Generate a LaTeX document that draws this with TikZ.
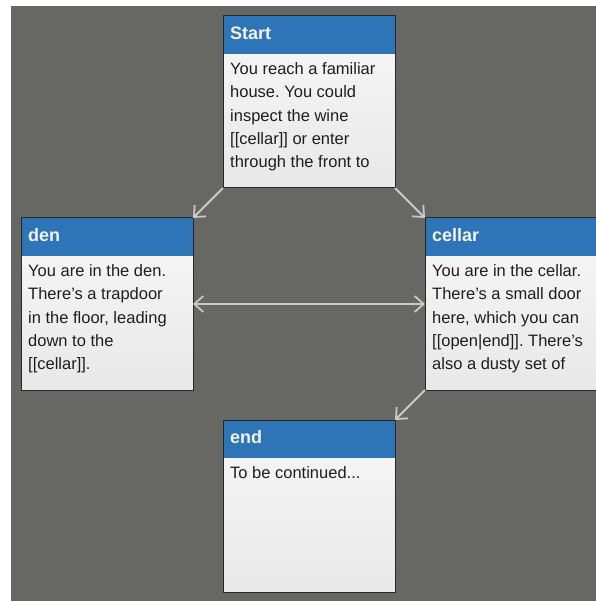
\documentclass[tikz,border=0pt]{standalone}
\usepackage{fontspec}
\setmainfont{Liberation Sans}
\usetikzlibrary{arrows.meta}
\frenchspacing
\definecolor{bggray}{RGB}{103,104,100}
\definecolor{hdrblue}{RGB}{45,117,183}
\definecolor{edgecol}{RGB}{200,202,195}
\definecolor{boxline}{RGB}{40,40,40}
\definecolor{bodytext}{RGB}{30,30,30}
\tikzset{
  passage/.style={draw=boxline, line width=1pt, top color=white!97!black, bottom color=white!91!black,
    minimum width=172pt, minimum height=172pt, inner sep=0pt, outer sep=0pt},
  hdrbar/.style={fill=hdrblue, draw=none, minimum width=171pt, minimum height=37.5pt, inner sep=0pt, outer sep=0pt},
  hdrtext/.style={anchor=base west, inner sep=0pt, text=white!95!black, font=\fontsize{18}{22}\selectfont\bfseries},
  bodytxt/.style={anchor=base west, inner sep=0pt, align=left, text=bodytext, font=\fontsize{16.5}{23.3}\selectfont\frenchspacing},
  link/.style={draw=edgecol, line width=1.8pt, >={Straight Barb[length=9pt,width=16pt]}}
}
\begin{document}
\begin{tikzpicture}[x=1pt,y=-1pt]
\useasboundingbox (0,0) rectangle (595,601);
\fill[white] (0,0) rectangle (595,601);
\fill[bggray] (11,6) rectangle (600,606);
% boxes
\node[passage] (start) at (309,102) {};
\node[passage] (den) at (107,304) {};
\node[passage] (cellar) at (511,304) {};
\node[passage] (end) at (309,506) {};
% headers
\foreach \b in {start,den,cellar,end}{
  \node[hdrbar, anchor=north west] (\b h) at ([shift={(0.5,0.5)}]\b.north west) {};
}
\draw[boxline, line width=1pt] (start.north west) rectangle (start.south east);
\draw[boxline, line width=1pt] (den.north west) rectangle (den.south east);
\draw[boxline, line width=1pt] (cellar.north west) rectangle (cellar.south east);
\draw[boxline, line width=1pt] (end.north west) rectangle (end.south east);
% header texts
\node[hdrtext] (startt) at ([shift={(7,23.6)}]start.north west) {Start};
\node[hdrtext] (dent) at ([shift={(7,23.6)}]den.north west) {den};
\node[hdrtext] (cellart) at ([shift={(7,23.6)}]cellar.north west) {cellar};
\node[hdrtext] (endt) at ([shift={(7,23.6)}]end.north west) {end};
% body texts (base anchor = last line's baseline)
\node[bodytxt] (startb) at ([shift={(7,151.7)}]start.north west)
  {You reach a familiar\\house. You could\\inspect the wine\\\relax[[cellar]] or enter\\through the front to};
\node[bodytxt] (denb) at ([shift={(7,151.7)}]den.north west)
  {You are in the den.\\There’s a trapdoor\\in the floor, leading\\down to the\\\relax[[cellar]].};
\node[bodytxt] (cellarb) at ([shift={(7,151.7)}]cellar.north west)
  {You are in the cellar.\\There’s a small door\\here, which you can\\\relax[[open|end]]. There’s\\also a dusty set of};
\node[bodytxt] (endb) at ([shift={(7,58.5)}]end.north west)
  {To be continued...};
% links
\draw[link,->] (start.south west) -- (den.north east);
\draw[link,->] (start.south east) -- (cellar.north west);
\draw[link,<->] (den.east) -- (cellar.west);
\draw[link,->] (cellar.south west) -- (end.north east);
\end{tikzpicture}
\end{document}
